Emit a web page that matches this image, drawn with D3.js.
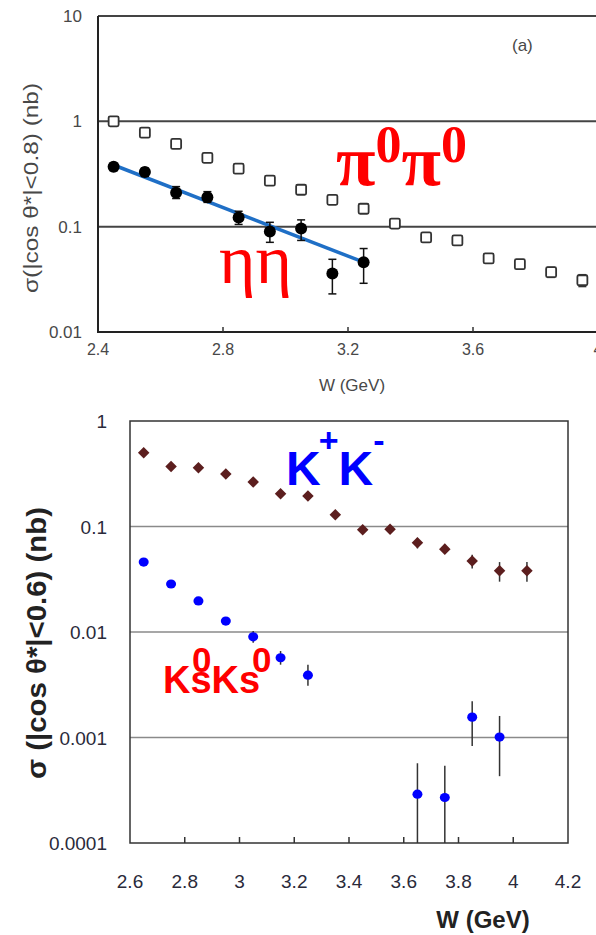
<!DOCTYPE html>
<html>
<head>
<meta charset="utf-8">
<script src="https://cdn.jsdelivr.net/npm/d3@7"></script>
<style>
body { margin:0; background:#fff; }
svg text { font-family: "Liberation Sans", Arial, sans-serif; }
</style>
</head>
<body>
<script>
var W=596, H=935;

// ---- panel (a): pi0pi0 and eta eta
var piW = [2.45,2.55,2.65,2.75,2.85,2.95,3.05,3.15,3.25,3.35,3.45,3.55,3.65,3.75,3.85,3.95];
var piVal = [1.0,0.78,0.61,0.45,0.355,0.273,0.224,0.18,0.148,0.107,0.079,0.074,0.050,0.044,0.037,0.031];
var piErr = [0,0,0,0,0,0,0,0,0,0,0.006,0.006,0.004,0.004,0.004,0.004];
var etaW = [2.45,2.55,2.65,2.75,2.85,2.95,3.05,3.15,3.25];
var etaVal = [0.37,0.33,0.21,0.19,0.122,0.09,0.096,0.036,0.046];
var etaHi = [0.40,0.36,0.24,0.215,0.14,0.11,0.116,0.049,0.062];
var etaLo = [0.34,0.30,0.185,0.17,0.105,0.071,0.074,0.023,0.029];
var fitW = [2.45,3.25];
var fitVal = [0.385,0.046];
var aYTicks = [10,1,0.1,0.01];
var aYLabels = ["10","1","0.1","0.01"];
var aXTicks = [2.4,2.8,3.2,3.6,4.0];
var aXLabels = ["2.4","2.8","3.2","3.6","4"];

// ---- panel (b): K+K- and KsKs
var kkW = [2.65,2.75,2.85,2.95,3.05,3.15,3.25,3.35,3.45,3.55,3.65,3.75,3.85,3.95,4.05];
var kkVal = [0.50,0.37,0.36,0.315,0.264,0.204,0.195,0.129,0.093,0.094,0.070,0.061,0.047,0.038,0.038];
var kkErr = [0.02,0.015,0.015,0.015,0.012,0.01,0.01,0.008,0.008,0.008,0.008,0.006,0.007,0.008,0.008];
var ksW = [2.65,2.75,2.85,2.95,3.05,3.15,3.25,3.65,3.75,3.85,3.95];
var ksVal = [0.046,0.0285,0.0197,0.0127,0.009,0.0057,0.0039,0.00029,0.00027,0.00156,0.00101];
var ksHi = [0.049,0.030,0.021,0.0137,0.0102,0.0066,0.0049,0.00057,0.00054,0.0022,0.0016];
var ksLo = [0.043,0.027,0.0185,0.0118,0.0079,0.0049,0.0031,0.00005,0.00005,0.00083,0.00043];
var bYTicks = [1,0.1,0.01,0.001,0.0001];
var bYLabels = ["1","0.1","0.01","0.001","0.0001"];
var bXTicks = [2.6,2.8,3.0,3.2,3.4,3.6,3.8,4.0,4.2];
var bXLabels = ["2.6","2.8","3","3.2","3.4","3.6","3.8","4","4.2"];

var svg = d3.select("body").append("svg").attr("width",W).attr("height",H);

// ================= panel (a)
var xa = d3.scaleLinear().domain([2.4,4.0]).range([98,598]);
var ya = d3.scaleLog().domain([0.01,10]).range([332,16]);
var ga = svg.append("g");

// gridlines (10, 1, 0.1)
ga.selectAll(".grid").data([10,1,0.1]).enter().append("line")
	.attr("x1",xa(2.4)).attr("x2",W).attr("y1",function(d){return ya(d);}).attr("y2",function(d){return ya(d);})
	.attr("stroke","#444").attr("stroke-width",2);
ga.append("line").attr("x1",xa(2.4)).attr("x2",xa(2.4)).attr("y1",ya(10)).attr("y2",ya(0.01)+1).attr("stroke","#222").attr("stroke-width",2);
ga.append("line").attr("x1",xa(2.4)-1).attr("x2",W).attr("y1",ya(0.01)).attr("y2",ya(0.01)).attr("stroke","#222").attr("stroke-width",2);
ga.selectAll(".xt").data(aXTicks.slice(1)).enter().append("line")
	.attr("x1",function(d){return xa(d);}).attr("x2",function(d){return xa(d);})
	.attr("y1",ya(0.01)).attr("y2",ya(0.01)-5).attr("stroke","#333").attr("stroke-width",1.5);

ga.selectAll(".yl").data(aYTicks).enter().append("text")
	.attr("x",82).attr("y",function(d){return ya(d)+6;}).attr("text-anchor","end")
	.attr("font-size",17).attr("fill","#484848").text(function(d,i){return aYLabels[i];});
ga.selectAll(".xl").data(aXTicks).enter().append("text")
	.attr("x",function(d){return xa(d);}).attr("y",355).attr("text-anchor","middle")
	.attr("font-size",16).attr("fill","#484848").text(function(d,i){return aXLabels[i];});
ga.append("text").attr("x",352).attr("y",391).attr("text-anchor","middle").attr("font-size",17).attr("fill","#484848").text("W (GeV)");
ga.append("text").attr("transform","translate(38,188) rotate(-90)").attr("text-anchor","middle")
	.attr("font-size",20).attr("fill","#484848").attr("textLength",210).attr("lengthAdjust","spacingAndGlyphs")
	.text("σ(|cos θ*|<0.8) (nb)");
ga.append("text").attr("x",512).attr("y",51).attr("font-size",17).attr("fill","#484848").text("(a)");

// pi0pi0 error bars + open squares
piW.forEach(function(w,i){
	if (piErr[i]>0) {
		var x=xa(w);
		ga.append("line").attr("x1",x).attr("x2",x).attr("y1",ya(piVal[i]+piErr[i])).attr("y2",ya(piVal[i]-piErr[i])).attr("stroke","#333").attr("stroke-width",1.5);
		[piVal[i]+piErr[i],piVal[i]-piErr[i]].forEach(function(v){
			ga.append("line").attr("x1",x-4).attr("x2",x+4).attr("y1",ya(v)).attr("y2",ya(v)).attr("stroke","#333").attr("stroke-width",1.5);
		});
	}
});
ga.selectAll(".sq").data(piW).enter().append("rect")
	.attr("x",function(d){return xa(d)-5;}).attr("y",function(d,i){return ya(piVal[i])-5;})
	.attr("width",10).attr("height",10).attr("rx",1.5).attr("fill","#fff").attr("stroke","#333").attr("stroke-width",1.8);

// fit line
ga.append("path").datum(fitW).attr("d",d3.line().x(function(d){return xa(d);}).y(function(d,i){return ya(fitVal[i]);}))
	.attr("stroke","#1f6fc6").attr("stroke-width",3.5).attr("fill","none");

// eta eta error bars + filled circles
etaW.forEach(function(w,i){
	var x=xa(w);
	ga.append("line").attr("x1",x).attr("x2",x).attr("y1",ya(etaHi[i])).attr("y2",ya(etaLo[i])).attr("stroke","#111").attr("stroke-width",1.5);
	[etaHi[i],etaLo[i]].forEach(function(v){
		ga.append("line").attr("x1",x-4).attr("x2",x+4).attr("y1",ya(v)).attr("y2",ya(v)).attr("stroke","#111").attr("stroke-width",1.5);
	});
});
ga.selectAll(".ci").data(etaW).enter().append("circle")
	.attr("cx",function(d){return xa(d);}).attr("cy",function(d,i){return ya(etaVal[i]);})
	.attr("r",6).attr("fill","#000");

// labels
var pl = ga.append("text").attr("x",336).attr("y",185).attr("fill","#ff0000")
	.attr("font-weight","bold").style("font-family","'Liberation Serif','Times New Roman',serif");
pl.append("tspan").attr("font-size",72).text("π");
pl.append("tspan").attr("font-size",52).attr("dy",-23).text("0");
pl.append("tspan").attr("font-size",72).attr("dy",23).text("π");
pl.append("tspan").attr("font-size",52).attr("dy",-23).text("0");
ga.append("text").attr("x",219).attr("y",283).attr("fill","#ff0000").attr("font-size",70)
	.style("font-family","'Liberation Serif','Times New Roman',serif").text("ηη");

// ================= panel (b)
var xb = d3.scaleLinear().domain([2.6,4.2]).range([130,568]);
var yb = d3.scaleLog().domain([0.0001,1]).range([843,421]).clamp(true);
var gb = svg.append("g");

gb.selectAll(".grid").data([0.1,0.01,0.001]).enter().append("line")
	.attr("x1",xb(2.6)).attr("x2",xb(4.2)).attr("y1",function(d){return yb(d);}).attr("y2",function(d){return yb(d);})
	.attr("stroke","#8a8a8a").attr("stroke-width",1.3);
gb.selectAll(".xt").data(bXTicks.slice(1,-1)).enter().append("line")
	.attr("x1",function(d){return xb(d);}).attr("x2",function(d){return xb(d);})
	.attr("y1",yb(0.0001)).attr("y2",yb(0.0001)-6).attr("stroke","#333").attr("stroke-width",1.5);
gb.append("rect").attr("x",xb(2.6)).attr("y",yb(1)).attr("width",xb(4.2)-xb(2.6)).attr("height",yb(0.0001)-yb(1))
	.attr("fill","none").attr("stroke","#333").attr("stroke-width",1.5);

gb.selectAll(".yl").data(bYTicks).enter().append("text")
	.attr("x",107).attr("y",function(d){return yb(d)+7;}).attr("text-anchor","end")
	.attr("font-size",19).attr("fill","#2a2a3a").text(function(d,i){return bYLabels[i];});
gb.selectAll(".xl").data(bXTicks).enter().append("text")
	.attr("x",function(d){return xb(d);}).attr("y",888).attr("text-anchor","middle")
	.attr("font-size",19).attr("fill","#2a2a3a").text(function(d,i){return bXLabels[i];});
gb.append("text").attr("x",483).attr("y",928).attr("text-anchor","middle").attr("font-size",24)
	.attr("font-weight","bold").attr("fill","#222").text("W (GeV)");
gb.append("text").attr("transform","translate(46,643) rotate(-90)").attr("text-anchor","middle")
	.attr("font-size",27).attr("font-weight","bold").attr("fill","#222")
	.attr("textLength",272).attr("lengthAdjust","spacingAndGlyphs").text("σ (|cos θ*|<0.6) (nb)");

// K+K- diamonds
kkW.forEach(function(w,i){
	gb.append("line").attr("x1",xb(w)).attr("x2",xb(w)).attr("y1",yb(kkVal[i]+kkErr[i])).attr("y2",yb(kkVal[i]-kkErr[i]))
		.attr("stroke","#333").attr("stroke-width",1.5);
});
gb.selectAll(".dm").data(kkW).enter().append("path")
	.attr("d",d3.symbol().type(d3.symbolDiamond2).size(85))
	.attr("transform",function(d,i){return "translate("+xb(d)+","+yb(kkVal[i])+")";})
	.attr("fill","#5c1e1e");

// KsKs dots
ksW.forEach(function(w,i){
	gb.append("line").attr("x1",xb(w)).attr("x2",xb(w)).attr("y1",yb(ksHi[i])).attr("y2",yb(ksLo[i]))
		.attr("stroke","#333").attr("stroke-width",1.5);
});
gb.selectAll(".kd").data(ksW).enter().append("ellipse")
	.attr("cx",function(d){return xb(d);}).attr("cy",function(d,i){return yb(ksVal[i]);})
	.attr("rx",5).attr("ry",4.6).attr("fill","#0000ff");

// labels
var kl = gb.append("text").attr("x",286).attr("y",485).attr("fill","#0000ff").attr("font-weight","bold");
kl.append("tspan").attr("font-size",48).text("K");
kl.append("tspan").attr("font-size",34).attr("dx",-2).attr("dy",-33).text("+");
kl.append("tspan").attr("font-size",48).attr("dy",33).text("K");
kl.append("tspan").attr("font-size",34).attr("dy",-33).text("-");
gb.append("text").attr("x",163).attr("y",693).attr("fill","#ff0000").attr("font-weight","bold").attr("font-size",38).text("KsKs");
gb.append("text").attr("x",192).attr("y",672).attr("fill","#ff0000").attr("font-weight","bold").attr("font-size",35).text("0");
gb.append("text").attr("x",252).attr("y",672).attr("fill","#ff0000").attr("font-weight","bold").attr("font-size",35).text("0");
</script>
</body>
</html>
